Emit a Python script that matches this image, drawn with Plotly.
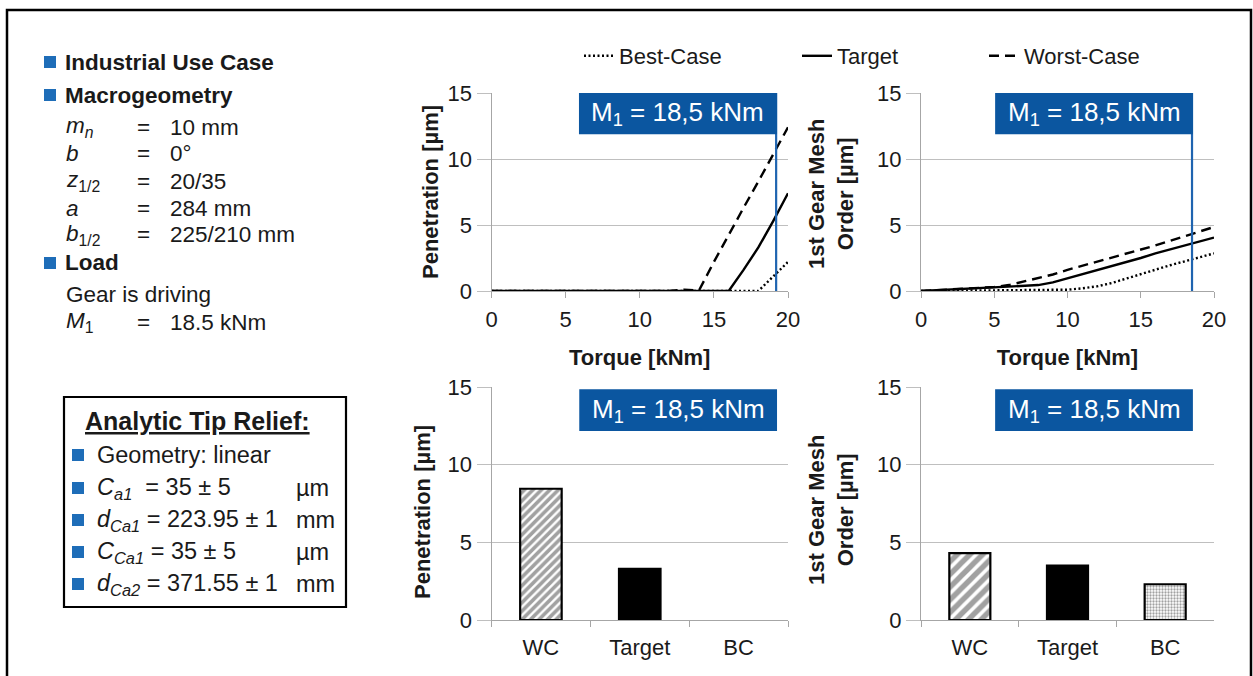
import plotly.graph_objects as go

W, H = 1253, 676
def px(x): return x / W
def py(y): return 1 - y / H

# ---------------- data ----------------
torque = list(range(0, 21))
pen_best   = [0]*19 + [1.1, 2.2]
pen_target = [0]*17 + [1.6, 3.3, 5.3, 7.4]
pen_worst  = [0]*13 + [0.1, 0.05, 2.2, 4.3, 6.3, 8.3, 10.3, 12.4]

mesh_best   = [0, 0.01, 0.02, 0.03, 0.04, 0.05, 0.05, 0.05, 0.05, 0.07, 0.1,
               0.2, 0.35, 0.6, 0.95, 1.3, 1.6, 1.95, 2.25, 2.55, 2.85]
mesh_target = [0, 0.05, 0.1, 0.15, 0.2, 0.25, 0.3, 0.38, 0.45, 0.65, 0.95,
               1.3, 1.6, 1.9, 2.2, 2.5, 2.85, 3.15, 3.45, 3.75, 4.05]
mesh_worst  = [0, 0.05, 0.12, 0.18, 0.24, 0.3, 0.45, 0.7, 0.95, 1.25, 1.6,
               1.9, 2.2, 2.5, 2.8, 3.1, 3.45, 3.8, 4.15, 4.5, 4.85]

categories = ["WC", "Target", "BC"]
bar_pen  = [8.45, 3.3, 0]
bar_mesh = [4.3, 3.5, 2.3]

series_names = ["Best-Case", "Target", "Worst-Case"]
m1_line_left = 19.2
m1_line_right = 18.5
box_text = "M<sub>1</sub> = 18,5 kNm"

# ---------------- style ----------------
FONT = "Arial, Liberation Sans, sans-serif"
TXT = "#1a1a1a"
GRID = "#BFBFBF"
AXL = "#A6A6A6"
BLUE_BOX = "#0B56A0"
BLUE_LINE = "#1F64B0"
BULLET = "#1E6DB8"
FS = 22

dashes = ["2px,2.5px", "solid", "10px,6px"]

fig = go.Figure()

for i, (name, yv) in enumerate(zip(series_names, [pen_best, pen_target, pen_worst])):
    fig.add_trace(go.Scatter(x=torque, y=yv, mode="lines", name=name,
                             line=dict(color="black", width=2.4, dash=dashes[i]),
                             xaxis="x", yaxis="y",
                             legend=["legend", "legend2", "legend3"][i],
                             showlegend=True))
for i, (name, yv) in enumerate(zip(series_names, [mesh_best, mesh_target, mesh_worst])):
    fig.add_trace(go.Scatter(x=torque, y=yv, mode="lines", name=name,
                             line=dict(color="black", width=2.4, dash=dashes[i]),
                             xaxis="x2", yaxis="y2", showlegend=False))

def bar_marker(hatch_size, line_widths):
    return dict(
        color=["white", "black", "white"],
        line=dict(color="black", width=line_widths),
        pattern=dict(shape=["/", "", "."], fgcolor=["black", "black", "#444444"],
                     bgcolor=["white", "black", "white"], size=[hatch_size, 8, 3],
                     solidity=[0.6, 0.3, 0.45]),
    )

fig.add_trace(go.Bar(x=categories, y=bar_pen, marker=bar_marker(6, [2.2, 2.2, 0]),
                     xaxis="x3", yaxis="y3", showlegend=False, width=0.42))
fig.add_trace(go.Bar(x=categories, y=bar_mesh, marker=bar_marker(9, [2.2, 2.2, 2.2]),
                     xaxis="x4", yaxis="y4", showlegend=False, width=0.42))

tickfont = dict(family=FONT, size=FS, color=TXT)
titlefont = dict(family=FONT, size=FS, color=TXT)

def xnum(domain):
    return dict(domain=domain, range=[0, 20], tickmode="linear", tick0=0, dtick=5,
                showline=True, linecolor=AXL, linewidth=1, ticks="outside", ticklen=6,
                tickcolor=AXL, showgrid=False, zeroline=False, tickfont=tickfont,
                automargin=False, ticklabelstandoff=3,
                title=dict(text="<b>Torque [kNm]</b>", font=titlefont, standoff=18))

def xcat(domain):
    return dict(domain=domain, range=[-0.5, 2.5], showline=True, linecolor=AXL, linewidth=1,
                ticks="outside", tickson="boundaries", ticklen=6, tickcolor=AXL,
                showgrid=False, zeroline=False, tickfont=tickfont, automargin=False,
                ticklabelstandoff=8)

def yax(domain, anchor):
    return dict(domain=domain, range=[0, 15], tickmode="linear", tick0=0, dtick=5,
                anchor=anchor, showline=True, linecolor=AXL, linewidth=1,
                ticks="outside", ticklen=14, tickcolor=GRID, showgrid=True, gridcolor=GRID,
                gridwidth=1, zeroline=False, tickfont=tickfont, automargin=False)

top = [py(291), py(93)]
bot = [py(620), py(387)]
xl = [px(491.5), px(788)]
xr = [px(921), px(1214)]

fig.update_layout(
    width=W, height=H, margin=dict(l=0, r=0, t=0, b=0, pad=0, autoexpand=False),
    paper_bgcolor="white", plot_bgcolor="white",
    font=dict(family=FONT, color=TXT),
    bargap=0.58,
    xaxis=dict(**xnum(xl), anchor="y"),
    yaxis=yax(top, "x"),
    xaxis2=dict(**xnum(xr), anchor="y2"),
    yaxis2=yax(top, "x2"),
    xaxis3=dict(**xcat(xl), anchor="y3"),
    yaxis3=yax(bot, "x3"),
    xaxis4=dict(**xcat(xr), anchor="y4"),
    yaxis4=yax(bot, "x4"),
)

legend_common = dict(orientation="h", yanchor="middle", xanchor="left",
                     font=dict(family=FONT, size=FS, color=TXT),
                     bgcolor="rgba(0,0,0,0)", borderwidth=0, itemwidth=30)
fig.update_layout(
    legend=dict(**legend_common, x=px(579), y=py(56)),
    legend2=dict(**legend_common, x=px(797), y=py(56)),
    legend3=dict(**legend_common, x=px(984), y=py(56)),
)

shapes = []
annotations = []

# outer frame
shapes.append(dict(type="rect", xref="paper", yref="paper", x0=px(7), x1=px(1251),
                   y0=py(700), y1=py(10), line=dict(color="black", width=2.5), layer="above"))

# blue vertical lines
shapes.append(dict(type="line", xref="x", yref="y", x0=m1_line_left, x1=m1_line_left,
                   y0=0, y1=15, line=dict(color=BLUE_LINE, width=2.2), layer="above"))
shapes.append(dict(type="line", xref="x2", yref="y2", x0=m1_line_right, x1=m1_line_right,
                   y0=0, y1=15, line=dict(color=BLUE_LINE, width=2.2), layer="above"))

# blue boxes
boxes = [("x", "y", 0.295, 0.963, 0.792, 1.0),
         ("x2", "y2", 0.253, 0.928, 0.792, 1.0),
         ("x3", "y3", 0.296, 0.963, 0.811, 0.99),
         ("x4", "y4", 0.253, 0.928, 0.811, 0.99)]
for xa, ya, x0, x1, y0, y1 in boxes:
    shapes.append(dict(type="rect", xref=f"{xa} domain", yref=f"{ya} domain",
                       x0=x0, x1=x1, y0=y0, y1=y1, fillcolor=BLUE_BOX,
                       line=dict(width=0), layer="above"))
    annotations.append(dict(xref=f"{xa} domain", yref=f"{ya} domain",
                            x=(x0 + x1) / 2, y=(y0 + y1) / 2, text=box_text,
                            showarrow=False, font=dict(family=FONT, size=26, color="white"),
                            xanchor="center", yanchor="middle"))

# y-axis titles
def ytitle(x, y, text):
    annotations.append(dict(xref="paper", yref="paper", x=px(x), y=py(y), text=text,
                            textangle=-90, showarrow=False, font=titlefont,
                            xanchor="center", yanchor="middle"))
ytitle(430, 192, "<b>Penetration [µm]</b>")
ytitle(831, 194, "<b>1st Gear Mesh<br>Order [µm]</b>")
ytitle(422, 512, "<b>Penetration [µm]</b>")
ytitle(831, 510, "<b>1st Gear Mesh<br>Order [µm]</b>")

# left panel text
def txt(x, y, text, size=FS, anchor="left"):
    annotations.append(dict(xref="paper", yref="paper", x=px(x), y=py(y), text=text,
                            showarrow=False, xanchor=anchor, yanchor="middle",
                            font=dict(family=FONT, size=size, color=TXT)))

def bullet(x, y, s=12):
    shapes.append(dict(type="rect", xref="paper", yref="paper", x0=px(x), x1=px(x + s),
                       y0=py(y + s / 2), y1=py(y - s / 2), fillcolor=BULLET,
                       line=dict(width=0)))

LS = 22.5
bullet(44, 62); txt(63, 62, "<b>Industrial Use Case</b>", LS)
bullet(44, 95); txt(63, 95, "<b>Macrogeometry</b>", LS)
rows = [(127, "<i>m<sub>n</sub></i>", "10 mm"),
        (153, "<i>b</i>", "0°"),
        (181, "<i>z</i><sub>1/2</sub>", "20/35"),
        (208, "<i>a</i>", "284 mm"),
        (235, "<i>b</i><sub>1/2</sub>", "225/210 mm")]
for y, sym, val in rows:
    txt(64, y, sym, LS)
    txt(143, y, "=", LS, anchor="center")
    txt(168, y, val, LS)
bullet(44, 263); txt(63, 263, "<b>Load</b>", LS)
txt(64, 295, "Gear is driving", LS)
txt(64, 322, "<i>M</i><sub>1</sub>", LS)
txt(143, 322, "=", LS, anchor="center")
txt(168, 322, "18.5 kNm", LS)

# Analytic tip relief box
shapes.append(dict(type="rect", xref="paper", yref="paper", x0=px(64), x1=px(346),
                   y0=py(607), y1=py(397), line=dict(color="black", width=2.2)))
txt(198, 421, "<b><u>Analytic Tip Relief:</u></b>", size=25, anchor="center")
TS = 23.5
tip_rows = [(455, "Geometry: linear", ""),
            (488, "<i>C<sub>a1</sub></i>  = 35 ± 5", "µm"),
            (520, "<i>d<sub>Ca1</sub></i> = 223.95 ± 1", "mm"),
            (552, "<i>C<sub>Ca1</sub></i> = 35 ± 5", "µm"),
            (584, "<i>d<sub>Ca2</sub></i> = 371.55 ± 1", "mm")]
for y, t, u in tip_rows:
    bullet(72, y, 12)
    txt(95, y, t, TS)
    if u:
        txt(294, y, u, TS)

fig.update_layout(shapes=shapes, annotations=annotations)
fig.write_html("out.html")
